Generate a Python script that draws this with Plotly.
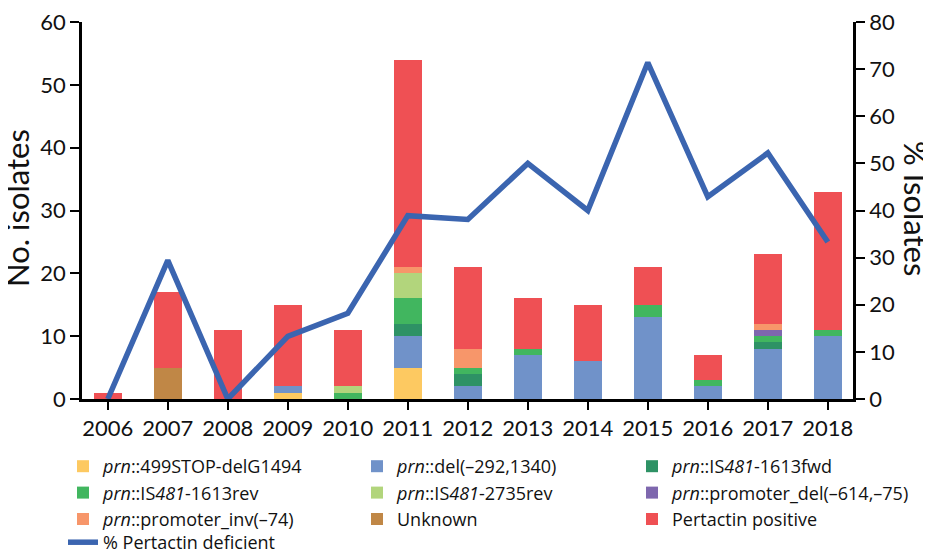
import plotly.graph_objects as go

years = ["2006", "2007", "2008", "2009", "2010", "2011", "2012",
         "2013", "2014", "2015", "2016", "2017", "2018"]

stop499 = [0, 0, 0, 1, 0, 5, 0, 0, 0, 0, 0, 0, 0]
del292 = [0, 0, 0, 1, 0, 5, 2, 7, 6, 13, 2, 8, 10]
is1613fwd = [0, 0, 0, 0, 0, 2, 2, 0, 0, 0, 0, 1, 0]
is1613rev = [0, 0, 0, 0, 1, 4, 1, 1, 0, 2, 1, 1, 1]
is2735rev = [0, 0, 0, 0, 1, 4, 0, 0, 0, 0, 0, 0, 0]
prom_del = [0, 0, 0, 0, 0, 0, 0, 0, 0, 0, 0, 1, 0]
prom_inv = [0, 0, 0, 0, 0, 1, 3, 0, 0, 0, 0, 1, 0]
unknown = [0, 5, 0, 0, 0, 0, 0, 0, 0, 0, 0, 0, 0]
positive = [1, 12, 11, 13, 9, 33, 13, 8, 9, 6, 4, 11, 22]
pct_deficient = [0, 29.4, 0, 13.3, 18.2, 38.9, 38.1, 50.0, 40.0, 71.4, 42.9, 52.2, 33.3]

series = [
    ("<i>prn</i>::499STOP-delG1494", stop499, "#FDC961", "legend"),
    ("<i>prn</i>::del(\u2013292,1340)", del292, "#7092C9", "legend2"),
    ("<i>prn</i>::IS<i>481</i>-1613fwd", is1613fwd, "#2E9265", "legend3"),
    ("<i>prn</i>::IS<i>481</i>-1613rev", is1613rev, "#41B65F", "legend"),
    ("<i>prn</i>::IS<i>481</i>-2735rev", is2735rev, "#B2D57C", "legend2"),
    ("<i>prn</i>::promoter_del(\u2013614,\u201375)", prom_del, "#7E67AE", "legend3"),
    ("<i>prn</i>::promoter_inv(\u201374)", prom_inv, "#F7966A", "legend"),
    ("Unknown", unknown, "#C08746", "legend2"),
    ("Pertactin positive", positive, "#EF5054", "legend3"),
]

FONT = "Lato, 'Open Sans', sans-serif"
LEG_FONT = "'Open Sans', Lato, sans-serif"

fig = go.Figure()
for i, (name, vals, col, lg) in enumerate(series):
    fig.add_trace(go.Bar(x=years, y=vals, name=name, marker=dict(color=col, line=dict(width=0)),
                         width=0.46, legend=lg, legendgroup=f"g{i}", yaxis="y"))

fig.add_trace(go.Scatter(x=years, y=pct_deficient, name="% Pertactin deficient", mode="lines",
                         line=dict(color="#3B65B0", width=5.5), yaxis="y2", legend="legend4",
                         legendgroup="gline", cliponaxis=False))

legend_common = dict(font=dict(family=LEG_FONT, size=18, color="#111"), bgcolor="rgba(0,0,0,0)",
                     xref="paper", yref="paper", yanchor="top", xanchor="left",
                     traceorder="grouped", tracegroupgap=0, itemwidth=30)

# page offset (browser body margin)
OFF = 8
PL, PR, PT, PB = 82, 853, 22, 399  # plot area in page pixels
W, H = 931 - OFF, 550 - OFF


def px(xp):
    return (xp - PL) / (PR - PL)


def py(yp):
    return 1 - (yp - PT) / (PB - PT)


LEG_TOP = 448

axis_common = dict(showline=True, linecolor="black", linewidth=2.5, ticks="outside", tickwidth=2,
                   tickcolor="black", showgrid=False, zeroline=False, tickfont=dict(size=22),
                   ticklabeloverflow="allow")

fig.update_layout(
    width=W, height=H,
    margin=dict(l=PL - OFF, r=W - (PR - OFF), t=PT - OFF, b=H - (PB - OFF), autoexpand=False),
    barmode="stack",
    plot_bgcolor="white", paper_bgcolor="white",
    font=dict(family=FONT, size=22, color="#111"),
    xaxis=dict(type="category", range=[-0.43, 12.42], ticklen=8, tickangle=0, **axis_common),
    yaxis=dict(range=[0, 60], dtick=10, ticklen=9, **axis_common),
    yaxis2=dict(range=[0, 80], dtick=10, overlaying="y", side="right", ticklen=9, **axis_common),
    legend=dict(x=px(63), y=py(LEG_TOP), **legend_common),
    legend2=dict(x=px(357), y=py(LEG_TOP), **legend_common),
    legend3=dict(x=px(632), y=py(LEG_TOP), **legend_common),
    legend4=dict(x=px(63), y=py(524), **legend_common),
    annotations=[
        dict(text="No. isolates", textangle=-90, xref="paper", yref="paper",
             x=px(17), y=py(208), showarrow=False, font=dict(size=31, family=FONT, color="#111"),
             xanchor="center", yanchor="middle"),
        dict(text="% Isolates", textangle=90, xref="paper", yref="paper",
             x=px(916), y=py(208), showarrow=False, font=dict(size=31, family=FONT, color="#111"),
             xanchor="center", yanchor="middle"),
    ],
)

fig.write_html("out.html")
